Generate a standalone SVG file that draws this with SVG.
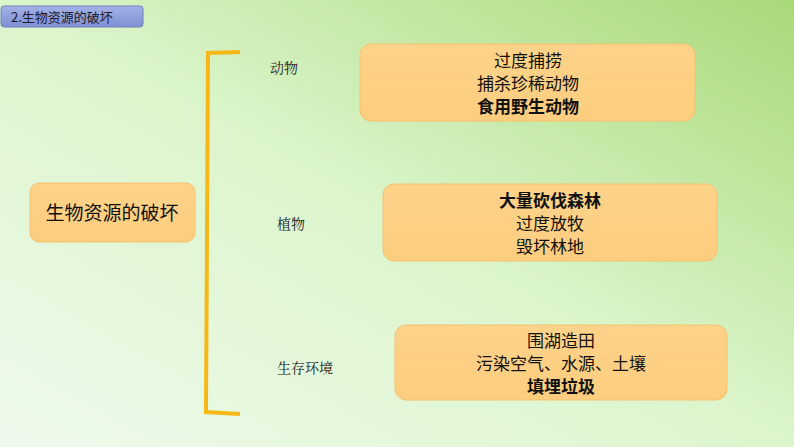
<svg xmlns="http://www.w3.org/2000/svg" width="794" height="447" viewBox="0 0 794 447">
<defs>
<linearGradient id="bg" x1="0" y1="1" x2="1" y2="0">
<stop offset="0" stop-color="#eefaec"/><stop offset="0.5" stop-color="#dcf5cc"/><stop offset="1" stop-color="#a9d878"/>
</linearGradient>
<linearGradient id="box" x1="0" y1="0" x2="0" y2="1">
<stop offset="0" stop-color="#fdd38a"/><stop offset="1" stop-color="#fccd7e"/>
</linearGradient>
<linearGradient id="tb" x1="0" y1="0" x2="0" y2="1">
<stop offset="0" stop-color="#a3b2e6"/><stop offset="1" stop-color="#7f8fd3"/>
</linearGradient>
<style>
.b{fill:url(#box);stroke:#f5c271;stroke-width:1}
.t{font-family:"Noto Sans CJK SC",sans-serif;font-size:17px;fill:#111;text-anchor:middle}
.k{font-weight:bold}
.l{font-family:"Noto Serif CJK SC","Noto Sans CJK SC",serif;font-size:14px;fill:#222}
</style>
</defs>
<rect width="794" height="447" fill="url(#bg)"/>
<g id="title"><rect x="1" y="6" width="142" height="21" rx="3" fill="url(#tb)" stroke="#7080c0"/>
<text x="11" y="22" style="font-family:'Noto Sans CJK SC',sans-serif;font-size:13px;fill:#1a1a2a">2.生物资源的破坏</text></g>
<g id="connectors"><path d="M240 52 L208 53 L206 412 L240 414" fill="none" stroke="#f6b816" stroke-width="4"/></g>
<g id="root"><rect class="b" x="30" y="183" width="165" height="59" rx="9"/><text class="t" x="112" y="220" style="font-size:19px">生物资源的破坏</text></g>
<g id="l1"><text class="l" x="270" y="73">动物</text></g>
<g id="l2"><text class="l" x="277" y="229">植物</text></g>
<g id="l3"><text class="l" x="277" y="373">生存环境</text></g>
<g id="n1"><rect class="b" x="360" y="44" width="335" height="77" rx="11"/>
<text class="t" x="528" y="67">过度捕捞</text><text class="t" x="528" y="90">捕杀珍稀动物</text><text class="t k" x="528" y="113">食用野生动物</text></g>
<g id="n2"><rect class="b" x="383" y="184" width="334" height="77" rx="11"/>
<text class="t k" x="550" y="207">大量砍伐森林</text><text class="t" x="550" y="230">过度放牧</text><text class="t" x="550" y="253">毁坏林地</text></g>
<g id="n3"><rect class="b" x="395" y="325" width="332" height="75" rx="11"/>
<text class="t" x="561" y="347">围湖造田</text><text class="t" x="561" y="370">污染空气、水源、土壤</text><text class="t k" x="561" y="393">填埋垃圾</text></g>
</svg>
